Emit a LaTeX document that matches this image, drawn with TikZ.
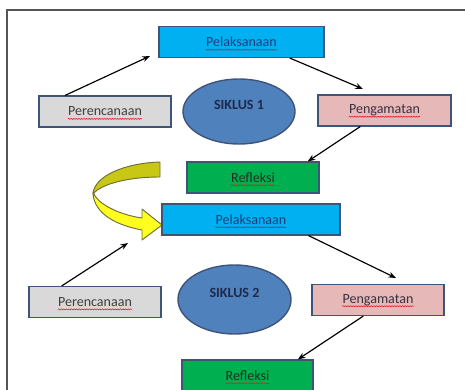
\documentclass[tikz,border=0pt]{standalone}
\usepackage{fontspec}
\setmainfont{Carlito}
\usetikzlibrary{positioning,arrows.meta,shapes.geometric,calc,decorations.pathmorphing}

\definecolor{boxline}{HTML}{3F5479}
\definecolor{pelfill}{HTML}{00B0F0}
\definecolor{perfill}{HTML}{D9D9D9}
\definecolor{penfill}{HTML}{E6B9B8}
\definecolor{reffill}{HTML}{00B050}
\definecolor{siklusfill}{HTML}{4F81BD}
\definecolor{pelText}{HTML}{1F3F7F}
\definecolor{perText}{HTML}{404040}
\definecolor{penText}{HTML}{3A3040}
\definecolor{refText}{HTML}{1E301E}
\definecolor{siklusText}{HTML}{1F2A4A}
\definecolor{squigred}{HTML}{E02020}
\definecolor{squigblue}{HTML}{44507A}
\definecolor{ribbonline}{HTML}{6E6E3A}
\definecolor{ribbonback}{HTML}{C8C814}
\definecolor{ribbonfront}{HTML}{FFFF1F}
\definecolor{framegray}{HTML}{555555}

\begin{document}
\begin{tikzpicture}[
  x=0.03cm, y=-0.03cm,
  >={Stealth[length=6.5pt,width=5pt]},
  box/.style={rectangle, draw=boxline, line width=1.2pt, inner sep=0pt, minimum height=0.92cm},
  boxtext/.style={inner sep=0pt, font=\fontsize{12}{14}\selectfont},
  siklus/.style={ellipse, draw=boxline, line width=1.2pt, fill=siklusfill, inner sep=0pt, font=\fontsize{12}{14}\selectfont\bfseries, text=siklusText, text depth=12pt},
  link/.style={->, line width=1pt, black},
  squig/.style={draw=#1, line width=0.5pt, decorate, decoration={snake, amplitude=0.45pt, segment length=2.2pt}},
  squig/.default=squigred,
  ribbon/.style={draw=ribbonline, line width=0.8pt, line join=round}
]

\useasboundingbox (0,0) rectangle (465,390);

% --- Bingkai ---
\coordinate (fbot) at (7,392);
\coordinate (fcorner) at (7,10);
\coordinate (fright) at (466,10);
\draw[framegray, line width=0.9pt] (fbot) -- (fcorner) -- (fright);

% --- Siklus 1 ---
\node[box, fill=pelfill, minimum width=4.95cm, label={[boxtext, text=pelText, name=pel1t]center:Pelaksanaan}] (pel1) at (241.5,42) {};
\node[box, fill=perfill, minimum width=3.96cm, label={[boxtext, text=perText, name=per1t]center:Perencanaan}] (per1) at (105,111.5) {};
\node[siklus, minimum width=3.36cm, minimum height=1.95cm] (sik1) at (239,111.5) {SIKLUS 1};
\node[box, fill=penfill, minimum width=3.99cm, label={[boxtext, text=penText, name=pen1t]center:Pengamatan}] (pen1) at (384.5,110.5) {};
\node[box, fill=reffill, minimum width=3.96cm, label={[boxtext, text=refText, name=ref1t]center:Refleksi}] (ref1) at (253,177.5) {};

\draw[squig=squigblue] ([yshift=-2.5pt]pel1t.base west) -- ([yshift=-2.5pt]pel1t.base east);
\draw[squig] ([yshift=-2.5pt]per1t.base west) -- ([yshift=-2.5pt]per1t.base east);
\draw[squig] ([yshift=-2.5pt]pen1t.base west) -- ([yshift=-2.5pt]pen1t.base east);
\draw[squig] ([yshift=-2.5pt]ref1t.base west) -- ([yshift=-2.5pt]ref1t.base east);

\coordinate (pel1in) at (150,56);
\coordinate (pen1in) at (363,89);

\draw[link] ($(per1.north west)!0.2!(per1.north east)$) -- (pel1in);
\draw[link] ($(pel1.south west)!0.79!(pel1.south east)$) -- (pen1in);
\draw[link] ($(pen1.south west)!0.32!(pen1.south east)$) -- ($(ref1.north west)!0.91!(ref1.north east)$);

% --- Panah kuning (lanjut ke siklus 2) ---
\filldraw[ribbon, fill=ribbonfront] (93,192) .. controls (93,210) and (110,224) .. (142,230)
  -- (142,240) -- (162,225) -- (142,209) -- (142,218)
  .. controls (121,215) and (102,206) .. (95,196) -- cycle;
\filldraw[ribbon, fill=ribbonback] (160,162) .. controls (125,163) and (94,176) .. (93,194)
  .. controls (101,184) and (128,177) .. (160,177) -- cycle;

% --- Siklus 2 ---
\node[box, fill=pelfill, minimum width=5.34cm, label={[boxtext, text=pelText, name=pel2t]center:Pelaksanaan}] (pel2) at (251,219.5) {};
\node[box, fill=perfill, minimum width=3.96cm, label={[boxtext, text=perText, name=per2t]center:Perencanaan}] (per2) at (95,302) {};
\node[siklus, minimum width=3.39cm, minimum height=2.07cm] (sik2) at (234.5,299.5) {SIKLUS 2};
\node[box, fill=penfill, minimum width=3.96cm, label={[boxtext, text=penText, name=pen2t]center:Pengamatan}] (pen2) at (378,300) {};
\node[box, fill=reffill, minimum width=3.93cm, label={[boxtext, text=refText, name=ref2t]center:Refleksi}] (ref2) at (247.5,375.5) {};

\draw[squig=squigblue] ([yshift=-2.5pt]pel2t.base west) -- ([yshift=-2.5pt]pel2t.base east);
\draw[squig] ([yshift=-2.5pt]per2t.base west) -- ([yshift=-2.5pt]per2t.base east);
\draw[squig] ([yshift=-2.5pt]pen2t.base west) -- ([yshift=-2.5pt]pen2t.base east);
\draw[squig] ([yshift=-2.5pt]ref2t.base west) -- ([yshift=-2.5pt]ref2t.base east);

\coordinate (pel2in) at (128,243);
\coordinate (pen2in) at (396,278);

\draw[link] ($(per2.north west)!0.25!(per2.north east)$) -- (pel2in);
\draw[link] ($(pel2.south west)!0.82!(pel2.south east)$) -- (pen2in);
\draw[link] ($(pen2.south west)!0.39!(pen2.south east)$) -- ($(ref2.north west)!0.88!(ref2.north east)$);

\end{tikzpicture}
\end{document}
